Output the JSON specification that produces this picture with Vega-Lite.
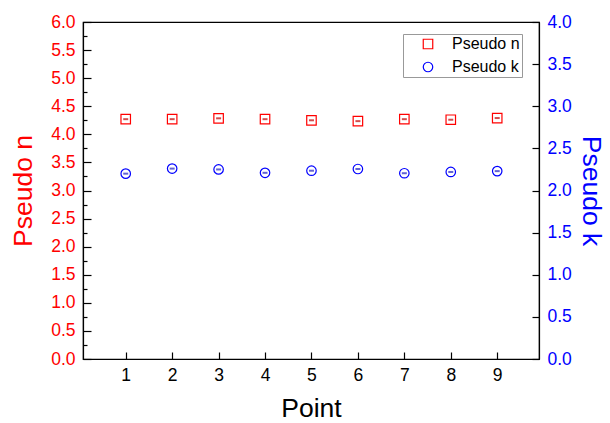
{
  "$schema": "https://vega.github.io/schema/vega-lite/v6.json",
  "autosize": "none",
  "width": 456,
  "height": 337,
  "padding": {"left": 83, "top": 22, "right": 71, "bottom": 64},
  "background": "white",
  "config": {
    "font": "Liberation Sans",
    "view": {"stroke": "black", "strokeWidth": 1.2},
    "axis": {"domainColor": "black", "domainWidth": 1.2, "tickColor": "black", "tickWidth": 1.2, "grid": false, "labelFont": "Liberation Sans", "titleFont": "Liberation Sans", "titleFontWeight": "normal", "labelFontSize": 17.5, "titleFontSize": 26.5}
  },
  "data": {
    "values": [
      {"point": 1, "series": "Pseudo n", "value": 4.27},
      {"point": 2, "series": "Pseudo n", "value": 4.27},
      {"point": 3, "series": "Pseudo n", "value": 4.285},
      {"point": 4, "series": "Pseudo n", "value": 4.27},
      {"point": 5, "series": "Pseudo n", "value": 4.25},
      {"point": 6, "series": "Pseudo n", "value": 4.235},
      {"point": 7, "series": "Pseudo n", "value": 4.27},
      {"point": 8, "series": "Pseudo n", "value": 4.26},
      {"point": 9, "series": "Pseudo n", "value": 4.29},
      {"point": 1, "series": "Pseudo k", "value": 2.20},
      {"point": 2, "series": "Pseudo k", "value": 2.26},
      {"point": 3, "series": "Pseudo k", "value": 2.25},
      {"point": 4, "series": "Pseudo k", "value": 2.21},
      {"point": 5, "series": "Pseudo k", "value": 2.235},
      {"point": 6, "series": "Pseudo k", "value": 2.255},
      {"point": 7, "series": "Pseudo k", "value": 2.205},
      {"point": 8, "series": "Pseudo k", "value": 2.22},
      {"point": 9, "series": "Pseudo k", "value": 2.23}
    ]
  },
  "encoding": {
    "x": {
      "field": "point", "type": "quantitative",
      "scale": {"domain": [0.08, 9.9], "nice": false, "zero": false},
      "axis": {"title": "Point", "values": [1,2,3,4,5,6,7,8,9], "format": "d", "tickSize": -7, "labelPadding": 14, "labelColor": "black", "titlePadding": 12, "titleColor": "black"}
    }
  },
  "layer": [
    {
      "transform": [{"filter": "datum.series === 'Pseudo n'"}],
      "encoding": {
        "y": {
          "field": "value", "type": "quantitative",
          "scale": {"domain": [0, 6], "nice": false, "zero": false},
          "axis": {
            "orient": "left", "title": "Pseudo n", "titleColor": "red", "labelColor": "red",
            "values": [0,0.25,0.5,0.75,1,1.25,1.5,1.75,2,2.25,2.5,2.75,3,3.25,3.5,3.75,4,4.25,4.5,4.75,5,5.25,5.5,5.75,6],
            "labelExpr": "abs(datum.value*2 - round(datum.value*2)) < 0.001 ? format(datum.value, '.1f') : ''",
            "tickSize": {"condition": {"test": "abs(datum.value*2 - round(datum.value*2)) < 0.001", "value": -8}, "value": -4},
            "labelPadding": 16, "titlePadding": 13, "labelFlush": false, "labelOverlap": false
          }
        }
      },
      "layer": [
        {
          "mark": {"type": "point", "filled": false, "strokeWidth": 1.2, "size": 90, "opacity": 1},
          "encoding": {
            "color": {"field": "series", "type": "nominal", "scale": {"domain": ["Pseudo n", "Pseudo k"], "range": ["red", "blue"]},
              "legend": {"title": null, "orient": "none", "legendX": 320, "legendY": 12, "strokeColor": "#999999", "fillColor": "white", "padding": 2, "labelFontSize": 16, "labelFont": "Liberation Sans", "labelColor": "black", "symbolSize": 90, "symbolStrokeWidth": 1.2, "rowPadding": 7, "labelOffset": 16, "symbolOffset": 15}},
            "shape": {"field": "series", "type": "nominal", "scale": {"domain": ["Pseudo n", "Pseudo k"], "range": ["square", "circle"]}}
          }
        },
        {
          "mark": {"type": "tick", "orient": "horizontal", "size": 5, "thickness": 2, "color": "#c00000"}
        }
      ]
    },
    {
      "transform": [{"filter": "datum.series === 'Pseudo k'"}],
      "encoding": {
        "y": {
          "field": "value", "type": "quantitative",
          "scale": {"domain": [0, 4], "nice": false, "zero": false},
          "axis": {
            "orient": "right", "title": "Pseudo k", "titleColor": "blue", "labelColor": "blue",
            "values": [0,0.5,1,1.5,2,2.5,3,3.5,4], "format": ".1f",
            "tickSize": -7, "labelPadding": 15, "titlePadding": 5, "labelFlush": false, "labelOverlap": false
          }
        }
      },
      "layer": [
        {
          "mark": {"type": "point", "filled": false, "strokeWidth": 1.2, "size": 90, "opacity": 1},
          "encoding": {
            "color": {"field": "series", "type": "nominal"},
            "shape": {"field": "series", "type": "nominal"}
          }
        },
        {
          "mark": {"type": "tick", "orient": "horizontal", "size": 5, "thickness": 2, "color": "#2020c0"}
        }
      ]
    }
  ],
  "resolve": {"scale": {"y": "independent"}}
}
